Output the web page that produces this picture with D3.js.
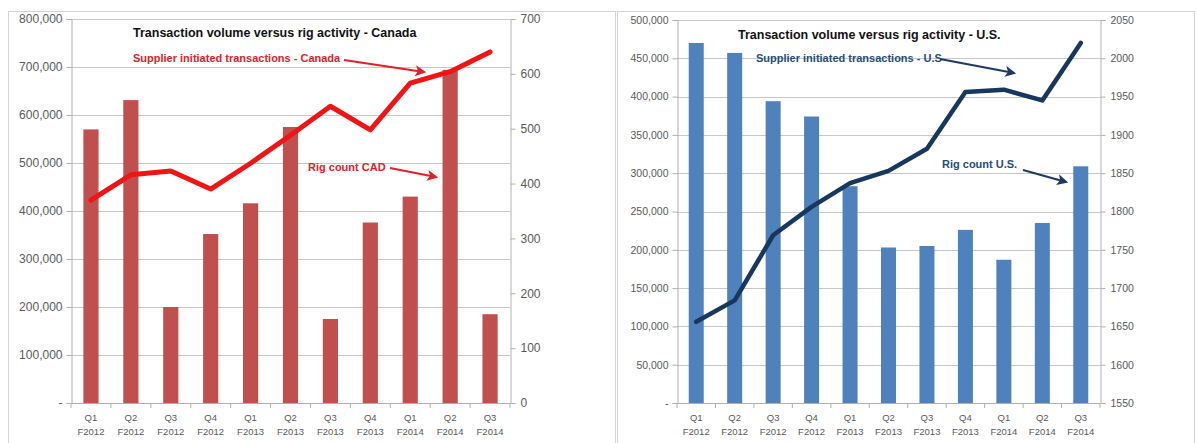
<!DOCTYPE html>
<html>
<head>
<meta charset="utf-8">
<script src="https://cdn.jsdelivr.net/npm/d3@7"></script>
<style>
  body { margin: 0; background: #fff; }
  svg { display: block; font-family: "Liberation Sans", Arial, sans-serif; }
</style>
</head>
<body>
<div id="chart"></div>
<script>
// quarters shared by both charts
var quarters = ["Q1 F2012", "Q2 F2012", "Q3 F2012", "Q4 F2012", "Q1 F2013", "Q2 F2013",
                "Q3 F2013", "Q4 F2013", "Q1 F2014", "Q2 F2014", "Q3 F2014"];

// Canada: bars = transactions (left axis), line = rig count (right axis)
var caTransactions = [570000, 631000, 200000, 352000, 416000, 575000, 175000, 376000, 430000, 694000, 185000];
var caRigs = [370, 416, 423, 390, 437, 488, 541, 498, 583, 604, 640];
var caLeftTicks = [0, 100000, 200000, 300000, 400000, 500000, 600000, 700000, 800000];
var caRightTicks = [0, 100, 200, 300, 400, 500, 600, 700];

// U.S.
var usTransactions = [470000, 457000, 394000, 374000, 283000, 203000, 205000, 226000, 187000, 235000, 309000];
var usRigs = [1656, 1684, 1769, 1806, 1837, 1853, 1882, 1956, 1959, 1945, 2020];
var usLeftTicks = [0, 50000, 100000, 150000, 200000, 250000, 300000, 350000, 400000, 450000, 500000];
var usRightTicks = [1550, 1600, 1650, 1700, 1750, 1800, 1850, 1900, 1950, 2000, 2050];

var svg = d3.select("#chart").append("svg")
  .attr("width", 1198)
  .attr("height", 443);

var fmt = d3.format(",");
var leftFmt = d => d === 0 ? "-" : fmt(d);

// outer frames
svg.append("rect").attr("x", 8.5).attr("y", 11.5).attr("width", 607).attr("height", 445)
  .attr("fill", "none").attr("stroke", "#d4d4d4");
svg.append("rect").attr("x", 617.5).attr("y", 11.5).attr("width", 577).attr("height", 445)
  .attr("fill", "none").attr("stroke", "#d4d4d4");

var defs = svg.append("defs");
[["arrRed", "#e3202a"], ["arrBlue", "#1f3864"]].forEach(function (a) {
  defs.append("marker")
    .attr("id", a[0])
    .attr("viewBox", "0 0 10 10")
    .attr("refX", 8).attr("refY", 5)
    .attr("markerWidth", 5.5).attr("markerHeight", 5)
    .attr("orient", "auto")
    .attr("markerUnits", "strokeWidth")
    .append("path")
    .attr("d", "M0,0 L10,5 L0,10 L2.5,5 Z")
    .attr("fill", a[1]);
});

function drawChart(cfg) {
  var g = svg.append("g");

  var x = d3.scaleBand().domain(quarters).range([cfg.x0, cfg.x1])
    .paddingInner(cfg.pad).paddingOuter(cfg.pad / 2);
  var slot = d3.scaleBand().domain(quarters).range([cfg.x0, cfg.x1]);
  var yL = d3.scaleLinear().domain(cfg.leftDomain).range([cfg.yb, cfg.yt]);
  var yR = d3.scaleLinear().domain(cfg.rightDomain).range([cfg.yb, cfg.yt]);

  // gridlines
  g.selectAll(".grid").data(cfg.leftTicks.slice(1)).enter().append("line")
    .attr("x1", cfg.x0).attr("x2", cfg.x1)
    .attr("y1", d => Math.round(yL(d)) + 0.5).attr("y2", d => Math.round(yL(d)) + 0.5)
    .attr("stroke", "#c8c8c8");

  // left axis
  var la = g.append("g").attr("transform", "translate(" + (cfg.x0 + 0.5) + ",0)")
    .call(d3.axisLeft(yL).tickValues(cfg.leftTicks).tickFormat(leftFmt).tickSize(5).tickPadding(4));
  // right axis
  var ra = g.append("g").attr("transform", "translate(" + (cfg.x1 + 0.5) + ",0)")
    .call(d3.axisRight(yR).tickValues(cfg.rightTicks).tickFormat(d3.format("d")).tickSize(5).tickPadding(5));
  [la, ra].forEach(function (a) {
    a.select(".domain").attr("stroke", "#b0b0b0");
    a.selectAll(".tick line").attr("stroke", "#b0b0b0");
    a.selectAll("text").attr("fill", "#595959").style("font-size", cfg.yFont + "px")
      .style("font-family", "Liberation Sans, Arial, sans-serif");
  });

  // bars
  g.selectAll(".bar").data(cfg.bars).enter().append("rect")
    .attr("x", (d, i) => x(quarters[i]))
    .attr("y", d => yL(d))
    .attr("width", x.bandwidth())
    .attr("height", d => cfg.yb - yL(d))
    .attr("fill", cfg.barColor);

  // x axis
  g.append("line").attr("x1", cfg.x0).attr("x2", cfg.x1)
    .attr("y1", cfg.yb + 0.5).attr("y2", cfg.yb + 0.5).attr("stroke", "#b0b0b0");
  g.selectAll(".xt").data(quarters.concat(["end"])).enter().append("line")
    .attr("x1", d => d === "end" ? cfg.x1 : slot(d))
    .attr("x2", d => d === "end" ? cfg.x1 : slot(d))
    .attr("y1", cfg.yb).attr("y2", cfg.yb + 5).attr("stroke", "#b0b0b0");
  var xl = g.selectAll(".xl").data(quarters).enter().append("text")
    .attr("x", d => slot(d) + slot.bandwidth() / 2)
    .attr("y", cfg.yb + 18)
    .attr("text-anchor", "middle")
    .attr("fill", "#595959")
    .style("font-size", "9.5px");
  xl.append("tspan").attr("x", d => slot(d) + slot.bandwidth() / 2).text(d => d.split(" ")[0]);
  xl.append("tspan").attr("x", d => slot(d) + slot.bandwidth() / 2).attr("dy", 14).text(d => d.split(" ")[1]);

  // line
  var line = d3.line()
    .x((d, i) => x(quarters[i]) + x.bandwidth() / 2)
    .y(d => yR(d));
  g.append("path").datum(cfg.line)
    .attr("d", line)
    .attr("fill", "none")
    .attr("stroke", cfg.lineColor)
    .attr("stroke-width", cfg.lineWidth)
    .attr("stroke-linejoin", "round")
    .attr("stroke-linecap", "round");

  // title
  g.append("text").attr("x", cfg.titleX).attr("y", cfg.titleY)
    .attr("fill", "#111")
    .style("font-size", "12.5px").style("font-weight", "bold")
    .text(cfg.title);

  // annotations
  cfg.notes.forEach(function (n) {
    g.append("text").attr("x", n.x).attr("y", n.y)
      .attr("fill", cfg.noteColor)
      .style("font-size", "11px").style("font-weight", "bold")
      .text(n.text);
    g.append("line")
      .attr("x1", n.a[0]).attr("y1", n.a[1]).attr("x2", n.a[2]).attr("y2", n.a[3])
      .attr("stroke", cfg.arrowColor).attr("stroke-width", 2.2)
      .attr("marker-end", "url(#" + cfg.marker + ")");
  });
}

drawChart({
  x0: 71, x1: 510, yt: 19, yb: 403, pad: 0.62,
  leftDomain: [0, 800000], rightDomain: [0, 700],
  leftTicks: caLeftTicks, rightTicks: caRightTicks,
  bars: caTransactions, line: caRigs,
  barColor: "#c0504d", lineColor: "#f01414", lineWidth: 5,
  yFont: 12,
  title: "Transaction volume versus rig activity - Canada", titleX: 133, titleY: 37,
  noteColor: "#e3202a", arrowColor: "#e3202a", marker: "arrRed",
  notes: [
    { text: "Supplier initiated transactions - Canada", x: 133, y: 62, a: [344, 60, 424, 72] },
    { text: "Rig count CAD", x: 308, y: 171, a: [390, 168, 436, 177] }
  ]
});

drawChart({
  x0: 677, x1: 1100, yt: 20, yb: 403, pad: 0.61,
  leftDomain: [0, 500000], rightDomain: [1550, 2050],
  leftTicks: usLeftTicks, rightTicks: usRightTicks,
  bars: usTransactions, line: usRigs,
  barColor: "#4f81bd", lineColor: "#17375e", lineWidth: 4.5,
  yFont: 10.5,
  title: "Transaction volume versus rig activity - U.S.", titleX: 738, titleY: 39,
  noteColor: "#1f4e79", arrowColor: "#1f3864", marker: "arrBlue",
  notes: [
    { text: "Supplier initiated transactions - U.S", x: 756, y: 62, a: [940, 59, 1014, 73] },
    { text: "Rig count U.S.", x: 942, y: 168, a: [1023, 170, 1066, 182] }
  ]
});
</script>
</body>
</html>
